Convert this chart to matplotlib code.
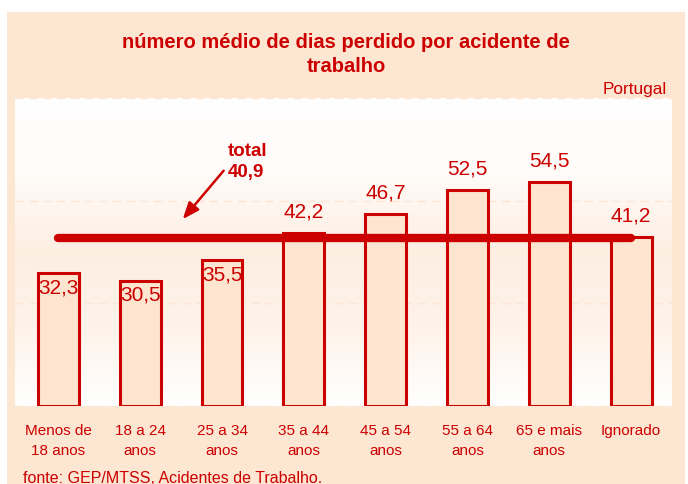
import numpy as np
import matplotlib.pyplot as plt
from matplotlib.colors import LinearSegmentedColormap
from matplotlib.patches import Rectangle

# Data
categories = ["Menos de\n18 anos", "18 a 24\nanos", "25 a 34\nanos", "35 a 44\nanos",
              "45 a 54\nanos", "55 a 64\nanos", "65 e mais\nanos", "Ignorado"]
values = [32.3, 30.5, 35.5, 42.2, 46.7, 52.5, 54.5, 41.2]
total = 40.9

red = '#CC0000'
peach = '#FDE6D2'
bar_fill = '#FDE5D0'

plt.rcParams['font.family'] = ['Liberation Sans', 'DejaVu Sans']

fig = plt.figure(figsize=(6.88, 4.85), dpi=100)
fig.patch.set_facecolor('white')
fig.patches.append(Rectangle((7 / 688, 0), 678 / 688, 472 / 485, transform=fig.transFigure,
                             facecolor=peach, edgecolor='none', zorder=-10))

ax = fig.add_axes([15 / 688, 78 / 485, 657 / 688, 308 / 485])
ax.set_xlim(-0.53, 7.5)
ax.set_ylim(0, 75)

# background gradient of the plot area
cmap = LinearSegmentedColormap.from_list('bg', ['#FFFFFF', '#FEF3EA', '#FDEEE2', '#FFFBF8', '#FFFFFF'])
grad = np.linspace(0, 1, 256).reshape(-1, 1)
ax.imshow(grad, cmap=cmap, aspect='auto', extent=(0, 1, 1, 0), transform=ax.transAxes, zorder=0)

x = np.arange(len(values))
ax.bar(x, values, width=0.5, color=bar_fill, edgecolor=red, linewidth=2.2, zorder=2)

# total line
ax.plot([x[0], x[-1]], [total, total], color=red, lw=6, solid_capstyle='round', zorder=3)

# value labels
for i, v in enumerate(values):
    txt = f"{v:.1f}".replace('.', ',')
    if v < total:
        ax.annotate(txt, (i, v), xytext=(0, -3), textcoords='offset points',
                    ha='center', va='top', fontsize=15, color=red, zorder=4)
    else:
        ax.annotate(txt, (i, v), xytext=(0, 12), textcoords='offset points',
                    ha='center', va='baseline', fontsize=15, color=red, zorder=4)

# total annotation
ax.annotate('', xy=(1.52, total + 4.6), xytext=(2.02, 57.3),
            arrowprops=dict(arrowstyle='-|>,head_length=1.0,head_width=0.4',
                            color=red, lw=1.8, shrinkA=0, shrinkB=0), zorder=4)
ax.text(2.07, 64.2, "total\n" + f"{total:.1f}".replace('.', ','), ha='left', va='top',
        fontsize=13.5, fontweight='bold', color=red, linespacing=1.3, zorder=4)

# axes styling
ax.set_xticks(x)
ax.set_xticklabels(categories, fontsize=11, color=red, linespacing=1.55)
ax.tick_params(axis='x', length=0, pad=12.5)
ax.set_yticks([0, 25, 50, 75])
ax.set_yticklabels([])
ax.tick_params(axis='y', length=0)
ax.set_axisbelow(True)
ax.grid(axis='y', color='#FDE6D4', linestyle=(0, (6, 4)), linewidth=1)
for s in ax.spines.values():
    s.set_visible(False)

fig.text(346 / 688, 1 - 72 / 485, "número médio de dias perdido por acidente de\ntrabalho",
         ha='center', va='baseline', fontsize=14.5, fontweight='bold', color=red, linespacing=1.3)
fig.text(667 / 688, 1 - 94 / 485, "Portugal", ha='right', va='baseline', fontsize=12.4, color=red)
fig.text(23 / 688, 1 - 483 / 485, "fonte: GEP/MTSS, Acidentes de Trabalho.", ha='left',
         va='baseline', fontsize=11.5, color=red)

fig.savefig('out.png', dpi=100)
